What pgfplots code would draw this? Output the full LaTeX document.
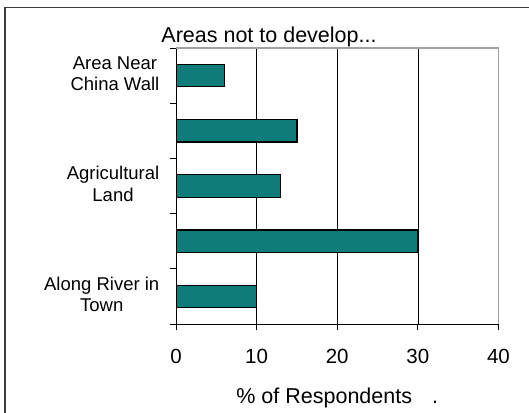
\documentclass[border=0pt]{standalone}
\usepackage{fontspec}
\setmainfont{Liberation Sans}
\usepackage{pgfplots}
\pgfplotsset{compat=1.18}
\definecolor{barteal}{RGB}{16,124,122}
\definecolor{frameline}{RGB}{60,60,60}
\definecolor{boxgray}{RGB}{160,160,160}

\begin{document}
\begin{tikzpicture}
\useasboundingbox (0,0) rectangle (529bp,413bp);
\fill[white] (0,0) rectangle (529bp,413bp);
% chart frame (runs off the right and bottom edges)
\draw[frameline, line width=1.5bp] (5bp,-5bp) -- (5bp,405.6bp) -- (535bp,405.6bp);
\node[anchor=base, font=\fontsize{21.5bp}{25bp}\selectfont, inner sep=0pt] at (269bp,370bp) {Areas not to develop...};
\begin{axis}[
  name=ax,
  at={(176bp,89bp)}, anchor=south west,
  scale only axis, width=322.5bp, height=276bp,
  xbar, bar width=22.4bp,
  xmin=0, xmax=40, ymin=-0.5, ymax=4.5,
  axis x line*=bottom, axis y line*=left,
  axis line style={black, line width=1bp, -},
  xtick={0,10,...,40},
  ytick={-0.5,0.5,...,4.5}, yticklabels={},
  extra y ticks={0,2,4},
  extra y tick labels={{Along River in\\Town},{Agricultural\\Land},{Area Near\\China Wall}},
  extra y tick style={major tick length=0pt},
  tick align=outside, major tick length=6bp,
  tick style={black, line width=1bp},
  xmajorgrids, grid style={black, line width=0.75bp},
  /pgf/number format/assume math mode=true,
  xticklabel style={font=\fontsize{20.5bp}{24bp}\selectfont, anchor=base, yshift=-33.3bp},
  yticklabel style={font=\fontsize{18.5bp}{21.5bp}\selectfont, align=center, inner sep=0pt, xshift=-16.5bp, yshift=2bp},
  xlabel={\% of Respondents\hspace{20bp}.},
  xlabel style={at={(axis description cs:0.5,0)}, anchor=base, yshift=-79bp, font=\fontsize{21.5bp}{25bp}\selectfont},
]
\addplot[fill=barteal, draw=black, line width=1.2bp]
  coordinates {(10,0) (30,1) (13,2) (15,3) (6,4)};
\end{axis}
\draw[boxgray, line width=1.5bp] (ax.north west) -- (ax.north east) -- (ax.south east);
\end{tikzpicture}
\end{document}
